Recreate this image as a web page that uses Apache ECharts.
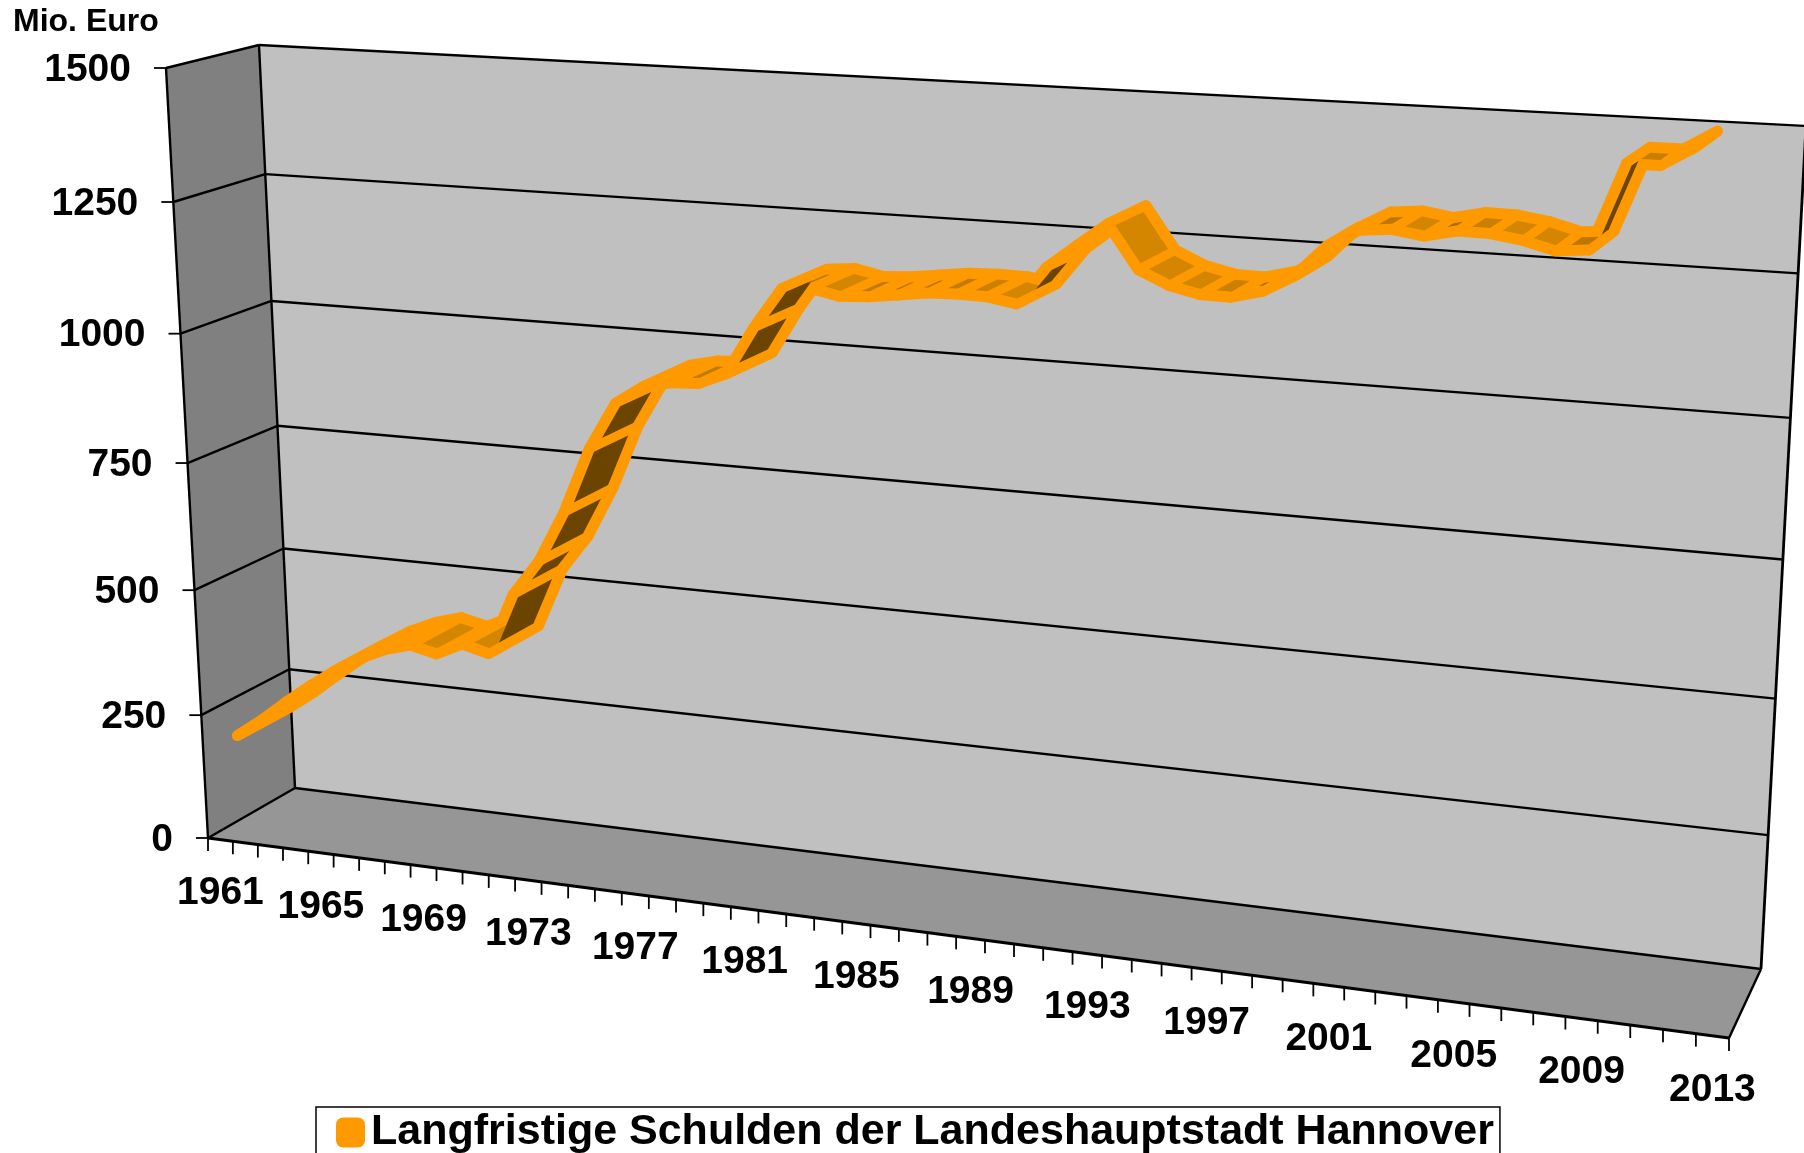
<!DOCTYPE html>
<html>
<head>
<meta charset="utf-8">
<title>Langfristige Schulden</title>
<style>
html, body { margin: 0; padding: 0; background: #fff; }
#chart { width: 1804px; height: 1153px; }
</style>
<script src="https://cdn.jsdelivr.net/npm/echarts@6/dist/echarts.min.js"></script>
</head>
<body>
<div id="chart"></div>
<script>
// values, the line stops at 2011
let years = [];
for (let y = 1961; y <= 2013; y++) years.push(String(y));
let debts = [
	188, 225, 267, 306, 342, 373, 396, 411, 399, 424,
	411, 531, 600, 700, 825, 915, 950, 962, 965, 987,
	1075, 1150, 1155, 1144, 1147, 1154, 1161, 1163, 1162, 1153,
	1221, 1263, 1304, 1228, 1204, 1192, 1191, 1205, 1235, 1290,
	1320, 1325, 1317, 1329, 1328, 1320, 1306, 1311, 1457, 1457,
	1490
];
let yTicks = [0, 250, 500, 750, 1000, 1250, 1500];
let seriesName = 'Langfristige Schulden der Landeshauptstadt Hannover';

// corners of the 3D box on screen: [bottom-left, bottom-right, top-right, top-left]
let backQuad = [[295, 788], [1761, 969], [1806, 126], [259, 45]];
let frontQuad = [[208, 838], [1729, 1038], [1775, 152], [166, 68]];
let ribbonFront = 0.75, ribbonBack = 0.14; // 0 = back wall, 1 = front edge
let insetLong = 5.5, insetCross = 4.5; // px, shaded face inside the orange band

let font = '"Liberation Sans", Arial, sans-serif';
let chart = echarts.init(document.getElementById('chart'));
let gridBox = { left: 100, top: 100, width: 1000, height: 800 };

// unit square -> quad
function homography(q) {
	let x0 = q[0][0], y0 = q[0][1], x1 = q[1][0], y1 = q[1][1];
	let x2 = q[2][0], y2 = q[2][1], x3 = q[3][0], y3 = q[3][1];
	let dx1 = x1 - x2, dx2 = x3 - x2, sx = x0 - x1 + x2 - x3;
	let dy1 = y1 - y2, dy2 = y3 - y2, sy = y0 - y1 + y2 - y3;
	let den = dx1 * dy2 - dx2 * dy1;
	let g = (sx * dy2 - dx2 * sy) / den;
	let h = (dx1 * sy - sx * dy1) / den;
	let a = x1 - x0 + g * x1, b = x3 - x0 + h * x3;
	let d = y1 - y0 + g * y1, e = y3 - y0 + h * y3;
	return function (u, v) {
		let w = g * u + h * v + 1;
		return [(a * u + b * v + x0) / w, (d * u + e * v + y0) / w];
	};
}
let backMap = homography(backQuad);
let frontMap = homography(frontQuad);

// u,v on the wall, t between back wall and front edge
function project(u, v, t) {
	let b = backMap(u, v), f = frontMap(u, v);
	return [b[0] + (f[0] - b[0]) * t, b[1] + (f[1] - b[1]) * t];
}
// data value -> wall position through the hidden axes
function toWall(api, cat, val) {
	let p = api.coord([cat, val]);
	return [(p[0] - gridBox.left) / gridBox.width, (gridBox.top + gridBox.height - p[1]) / gridBox.height];
}
function poly(points, fill) {
	return { type: 'polygon', shape: { points: points }, style: { fill: fill, stroke: null } };
}
function line(a, b, width) {
	return {
		type: 'line',
		shape: { x1: a[0], y1: a[1], x2: b[0], y2: b[1] },
		style: { stroke: '#000', lineWidth: width || 2.4 }
	};
}
function text(str, x, y, size, align) {
	return {
		type: 'text',
		style: {
			text: str, x: x, y: y, fill: '#000',
			font: 'bold ' + size + 'px ' + font,
			textAlign: align, textVerticalAlign: 'middle'
		}
	};
}

function renderWalls(params, api) {
	let kids = [
		poly([project(0, 0, 1), project(0, 1, 1), project(0, 1, 0), project(0, 0, 0)], '#808080'),
		poly([project(0, 0, 0), project(1, 0, 0), project(1, 1, 0), project(0, 1, 0)], '#c0c0c0'),
		poly([project(0, 0, 1), project(1, 0, 1), project(1, 0, 0), project(0, 0, 0)], '#969696')
	];
	kids.push(line(project(0, 0, 1), project(0, 1, 1)));
	kids.push(line(project(0, 0, 0), project(0, 1, 0)));
	kids.push(line(project(1, 0, 0), project(1, 1, 0), 2.8));
	kids.push(line(project(0, 0, 1), project(1, 0, 1), 2.8));
	kids.push(line(project(1, 0, 1), project(1, 0, 0)));
	// value gridlines and labels
	yTicks.forEach(function (val) {
		let v = toWall(api, 0, val)[1];
		let fl = project(0, v, 1), bl = project(0, v, 0), br = project(1, v, 0);
		kids.push(line(fl, bl));
		kids.push(line(bl, br));
		kids.push(line([fl[0] - 12, fl[1]], fl, 1.8));
		kids.push(text(String(val), fl[0] - 35, fl[1] + 2, 39, 'right'));
	});
	// year ticks on the band edges, label every 4th year
	for (let i = 0; i <= years.length; i++) {
		let p = project(i / years.length, 0, 1);
		kids.push(line(p, [p[0], p[1] + 13], 1.8));
	}
	years.forEach(function (year, i) {
		if (i % 4 !== 0) return;
		let p = project(toWall(api, i, 0)[0], 0, 1);
		kids.push(text(year, p[0], p[1] + 54, 39, 'center'));
	});
	return { type: 'group', children: kids };
}

// steep rising pieces are dark, flat and falling ones lighter
function shade(delta) {
	let k = Math.max(0, Math.min(1, (delta + 5) / 45));
	let c0 = [212, 134, 0], c1 = [107, 68, 0];
	return 'rgb(' + c0.map(function (c, j) { return Math.round(c + (c1[j] - c) * k); }).join(',') + ')';
}

// one ribbon piece on screen: front edge left/right, back edge right/left
function piece(api, i) {
	let a = toWall(api, i, debts[i]);
	let c = toWall(api, i + 1, debts[i + 1]);
	return [
		project(a[0], a[1], ribbonFront), project(c[0], c[1], ribbonFront),
		project(c[0], c[1], ribbonBack), project(a[0], a[1], ribbonBack)
	];
}
function area(q) {
	let s = 0;
	q.forEach(function (p, j) {
		let n = q[(j + 1) % 4];
		s += p[0] * n[1] - n[0] * p[1];
	});
	return s / 2;
}
// shrink the piece by px on each side, null if nothing is left of it
function insetPiece(q) {
	let sign = area(q) > 0 ? 1 : -1;
	let edges = q.map(function (p, j) {
		let n = q[(j + 1) % 4];
		let dx = n[0] - p[0], dy = n[1] - p[1], len = Math.sqrt(dx * dx + dy * dy) || 1;
		let d = j % 2 === 0 ? insetLong : insetCross;
		return { x: p[0] - sign * dy / len * d, y: p[1] + sign * dx / len * d, dx: dx, dy: dy };
	});
	let out = [];
	for (let j = 0; j < 4; j++) {
		let e0 = edges[(j + 3) % 4], e1 = edges[j];
		let den = e0.dx * e1.dy - e0.dy * e1.dx;
		if (Math.abs(den) < 1e-6) return null;
		let k = ((e1.x - e0.x) * e1.dy - (e1.y - e0.y) * e1.dx) / den;
		out.push([e0.x + e0.dx * k, e0.y + e0.dy * k]);
	}
	for (let j = 0; j < 4; j++) {
		let n = out[(j + 1) % 4];
		if ((n[0] - out[j][0]) * edges[j].dx + (n[1] - out[j][1]) * edges[j].dy <= 0) return null;
	}
	return out;
}

function renderBand(params, api) {
	let i = api.value(0);
	if (i >= debts.length - 1) return { type: 'group', children: [] };
	return {
		type: 'polygon',
		shape: { points: piece(api, i) },
		style: { fill: '#ff9900', stroke: '#ff9900', lineWidth: 11, lineJoin: 'round' }
	};
}

function renderTop(params, api) {
	let i = api.value(0);
	if (i >= debts.length - 1) return { type: 'group', children: [] };
	let q = insetPiece(piece(api, i));
	if (!q) return { type: 'group', children: [] };
	return {
		type: 'polygon',
		shape: { points: q },
		style: { fill: shade(debts[i + 1] - debts[i]), stroke: null }
	};
}

let points = debts.map(function (val, i) { return [i, val]; });

chart.setOption({
	animation: false,
	backgroundColor: '#fff',
	title: {
		text: 'Mio. Euro',
		left: 13,
		top: 6,
		padding: 0,
		textStyle: { fontFamily: font, fontWeight: 'bold', fontSize: 32, color: '#000' }
	},
	legend: {
		data: [seriesName],
		left: 316,
		top: 1107,
		padding: [4, 6, 8, 20],
		itemWidth: 29,
		itemHeight: 30,
		itemGap: 0,
		icon: 'roundRect',
		borderColor: '#000',
		borderWidth: 1.5,
		selectedMode: false,
		textStyle: { fontFamily: font, fontWeight: 'bold', fontSize: 43, color: '#000', padding: [0, 0, 0, 1] }
	},
	grid: gridBox,
	xAxis: { type: 'category', data: years, show: false },
	yAxis: { type: 'value', min: 0, max: 1500, show: false },
	series: [
		{
			name: 'walls',
			type: 'custom',
			coordinateSystem: 'cartesian2d',
			silent: true,
			z: 1,
			clip: false,
			data: [[0, 0]],
			renderItem: renderWalls
		},
		{
			name: seriesName,
			type: 'custom',
			coordinateSystem: 'cartesian2d',
			silent: true,
			z: 2,
			clip: false,
			itemStyle: { color: '#ff9900' },
			encode: { x: 0, y: 1 },
			data: points,
			renderItem: renderBand
		},
		{
			name: 'top',
			type: 'custom',
			coordinateSystem: 'cartesian2d',
			silent: true,
			z: 3,
			clip: false,
			encode: { x: 0, y: 1 },
			data: points,
			renderItem: renderTop
		}
	]
});
</script>
</body>
</html>
